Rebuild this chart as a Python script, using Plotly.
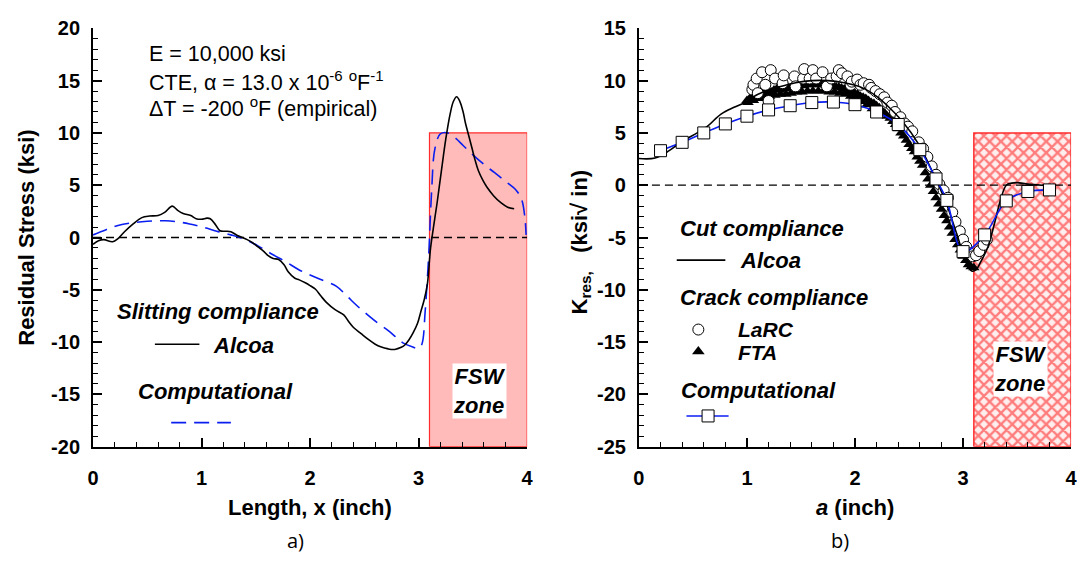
import plotly.graph_objects as go

# ---------------- Panel a) data ----------------
alcoa_a_x = [0.00, 0.05, 0.10, 0.18, 0.23, 0.29, 0.37, 0.45, 0.52, 0.60, 0.66, 0.73, 0.78, 0.83, 0.90,
             0.95, 1.00, 1.05, 1.08, 1.13, 1.17, 1.22, 1.27, 1.33, 1.42, 1.47, 1.52, 1.57, 1.61, 1.66,
             1.71, 1.76, 1.80, 1.86, 1.90, 1.96, 2.00, 2.05, 2.10, 2.15, 2.23, 2.31, 2.36, 2.40, 2.47,
             2.53, 2.60, 2.65, 2.72, 2.78, 2.84, 2.87, 2.91, 2.95, 2.99, 3.02, 3.05, 3.08, 3.11, 3.14,
             3.17, 3.21, 3.25, 3.29, 3.32, 3.35, 3.38, 3.41, 3.43, 3.46, 3.49, 3.52, 3.55, 3.59, 3.63,
             3.69, 3.76, 3.82, 3.88]
alcoa_a_y = [-0.65, -0.3, -0.2, -0.4, -0.1, 0.55, 1.3, 1.9, 2.05, 2.1, 2.4, 3.0, 2.6, 2.3, 2.1,
             1.8, 1.75, 1.85, 1.8, 1.2, 0.65, 0.6, 0.55, 0.2, -0.2, -0.5, -0.9, -1.3, -1.7, -2.0,
             -2.1, -2.6, -3.3, -3.9, -4.05, -4.35, -4.6, -4.95, -5.6, -6.2, -6.9, -7.4, -8.1, -8.6, -9.2,
             -9.7, -10.2, -10.45, -10.65, -10.7, -10.5, -10.3, -9.8, -9.1, -8.2, -7.1, -6.0, -4.5, -1.0, 1.2,
             3.3, 6.4, 9.4, 11.8, 13.0, 13.45, 13.0, 12.0, 11.0, 9.8, 8.6, 7.4, 6.4, 5.5, 4.8,
             4.0, 3.3, 2.9, 2.75]

comp_a_x = [0.00, 0.12, 0.23, 0.34, 0.45, 0.56, 0.67, 0.78, 0.89, 1.01, 1.14, 1.27, 1.39, 1.52, 1.65,
            1.78, 1.90, 2.07, 2.24, 2.34, 2.43, 2.53, 2.62, 2.72, 2.80, 2.86, 2.94, 3.00, 3.03, 3.06,
            3.08, 3.095, 3.12, 3.15, 3.20, 3.27, 3.34, 3.41, 3.50, 3.60, 3.70, 3.79, 3.90, 3.95, 3.98, 3.99]
comp_a_y = [0.25, 0.75, 1.15, 1.38, 1.5, 1.58, 1.6, 1.5, 1.3, 1.0, 0.6, 0.25, -0.15, -0.8, -1.6,
            -2.35, -3.1, -3.9, -4.65, -5.6, -6.5, -7.4, -8.15, -8.9, -9.6, -10.1, -10.45, -10.6, -10.2, -7.1,
            -4.0, -1.3, 4.5, 8.5, 9.9, 10.0, 9.5, 8.8, 7.9, 7.0, 6.2, 5.45, 4.5, 3.6, 1.8, 0.25]

fsw_a = [3.1, 4.0, -20, 10]   # x0, x1, y0, y1

# ---------------- Panel b) data ----------------
comp_b_x = [0.2, 0.4, 0.6, 0.8, 1.0, 1.2, 1.4, 1.6, 1.8, 2.0, 2.2, 2.4, 2.6, 2.75, 2.85, 3.0, 3.2, 3.4, 3.6, 3.8]
comp_b_y = [3.3, 4.1, 5.0, 5.86, 6.6, 7.2, 7.6, 7.9, 7.95, 7.7, 7.0, 5.8, 3.4, 0.6, -1.45, -6.35, -4.75, -1.5, -0.6, -0.45]

alcoa_b_x = [0.00, 0.15, 0.28, 0.40, 0.54, 0.63, 0.76, 0.88, 0.98, 1.05, 1.15, 1.30, 1.45, 1.60, 1.75,
             1.90, 2.05, 2.20, 2.30, 2.43, 2.59, 2.72, 2.84, 2.94, 3.03, 3.08, 3.12, 3.16, 3.23, 3.29,
             3.35, 3.40, 3.45, 3.50, 3.60, 3.73, 3.85]
alcoa_b_y = [2.55, 2.6, 3.3, 4.2, 5.0, 5.6, 6.8, 7.45, 7.9, 8.4, 8.9, 9.4, 9.8, 10.0, 10.0,
             9.8, 9.4, 8.5, 7.6, 6.2, 3.9, 1.2, -1.6, -4.6, -7.4, -8.2, -8.1, -7.4, -5.9, -3.7,
             -1.3, 0.0, 0.2, 0.25, 0.1, 0.0, -0.05]

larc_x = [1.05, 1.06, 1.09, 1.10, 1.14, 1.17, 1.20, 1.22, 1.26, 1.33, 1.34, 1.44, 1.45, 1.52, 1.53,
          1.58, 1.61, 1.64, 1.70, 1.74, 1.78, 1.83, 1.85, 1.88, 1.93, 1.96, 1.97, 2.02, 2.05, 2.08,
          2.13, 2.15, 2.19, 2.23, 2.27, 2.30, 2.34, 2.37, 2.42, 2.46, 2.49, 2.53, 2.59, 2.63, 2.67,
          2.71, 2.75, 2.78, 2.82, 2.86, 2.90, 2.93, 2.97, 3.00, 3.03, 3.06, 3.09, 3.12, 3.15, 3.19, 3.22]
larc_y = [9.15, 9.6, 10.2, 8.8, 10.8, 9.6, 8.05, 11.0, 10.2, 9.75, 10.5, 10.4, 9.45, 10.2, 11.1,
          10.2, 11.0, 10.2, 10.8, 9.45, 10.2, 10.4, 11.0, 10.7, 10.4, 9.6, 9.9, 10.1, 9.6, 9.75,
          9.6, 9.3, 9.0, 8.7, 8.4, 7.9, 7.6, 7.0, 6.5, 5.9, 5.6, 5.15, 4.1, 3.5, 2.7,
          1.8, 1.0, 0.1, -0.5, -1.2, -2.6, -3.5, -4.4, -5.2, -5.9, -6.5, -6.8, -6.7, -6.3, -5.7, -5.2]

fta_x = [1.000, 1.025, 1.050, 1.075, 1.100, 1.125, 1.150, 1.175, 1.200, 1.225, 1.250, 1.275, 1.300,
         1.325, 1.350, 1.375, 1.400, 1.425, 1.450, 1.475, 1.500, 1.525, 1.550, 1.575, 1.600, 1.625,
         1.650, 1.675, 1.700, 1.725, 1.750, 1.775, 1.800, 1.825, 1.850, 1.875, 1.900, 1.925, 1.950,
         1.975, 2.000, 2.025, 2.050, 2.075, 2.100, 2.125, 2.150, 2.175, 2.200, 2.225, 2.250, 2.275,
         2.300, 2.325, 2.350, 2.375, 2.400, 2.425, 2.450, 2.475, 2.500, 2.525, 2.550, 2.575, 2.600,
         2.625, 2.650, 2.675, 2.700, 2.725, 2.750, 2.775, 2.800, 2.825, 2.850, 2.875, 2.900, 2.925,
         2.950, 2.975, 3.000, 3.025, 3.050, 3.075, 3.100,
         # lower edge of the dense band
         1.010, 1.060, 1.110, 1.160, 1.210, 1.260, 1.310, 1.360, 1.410, 1.460, 1.510, 1.560, 1.610,
         1.660, 1.710, 1.760, 1.810, 1.860, 1.910, 1.960, 2.010, 2.060, 2.110, 2.160]
fta_y = [8.1, 8.3, 8.5, 8.4, 8.6, 8.8, 8.7, 8.9, 9.0, 8.9, 9.1, 9.2, 9.1,
         9.3, 9.2, 9.4, 9.3, 9.5, 9.4, 9.5, 9.6, 9.5, 9.6, 9.7, 9.6, 9.7,
         9.6, 9.7, 9.6, 9.6, 9.5, 9.6, 9.5, 9.4, 9.4, 9.3, 9.2, 9.1, 9.0,
         8.9, 8.8, 8.7, 8.5, 8.4, 8.3, 8.1, 7.9, 7.8, 7.6, 7.4, 7.1, 6.9,
         6.6, 6.4, 6.1, 5.8, 5.4, 5.0, 4.7, 4.3, 3.9, 3.5, 3.2, 2.7, 2.3,
         1.9, 1.2, 0.6, 0.0, -0.6, -1.2, -1.8, -2.3, -2.9, -3.4, -4.0, -4.6, -5.2,
         -5.7, -6.2, -6.8, -7.2, -7.6, -7.8, -7.9,
         7.9, 8.1, 8.3, 8.4, 8.5, 8.6, 8.7, 8.7, 8.8, 8.9, 8.9, 9.0, 9.0,
         9.0, 9.0, 8.9, 8.9, 8.8, 8.7, 8.5, 8.3, 8.0, 7.7, 7.3]

fsw_b = [3.1, 4.0, -25, 5]

xtick_vals = [0, 1, 2, 3, 4]
xtick_text = ["0", "1", "2", "3", "4"]
ya_tick_vals = [-20, -15, -10, -5, 0, 5, 10, 15, 20]
ya_tick_text = ["-20", "-15", "-10", "-5", "0", "5", "10", "15", "20"]
yb_tick_vals = [-25, -20, -15, -10, -5, 0, 5, 10, 15]
yb_tick_text = ["-25", "-20", "-15", "-10", "-5", "0", "5", "10", "15"]

W, H = 1085, 576
FONT = "Liberation Sans, Arial, sans-serif"
BLUE = "#0a1ef0"

fig = go.Figure()

# --- panel a ---
fig.add_trace(go.Scatter(x=[fsw_a[0], fsw_a[1], fsw_a[1], fsw_a[0], fsw_a[0]],
                         y=[fsw_a[2], fsw_a[2], fsw_a[3], fsw_a[3], fsw_a[2]],
                         fill="toself", fillcolor="#ffbaba", mode="lines",
                         line=dict(color="#ff2a2a", width=1.2), xaxis="x", yaxis="y", hoverinfo="skip"))
fig.add_trace(go.Scatter(x=[0, 4], y=[0, 0], mode="lines",
                         line=dict(color="black", width=1.3, dash="8px,5px"), xaxis="x", yaxis="y"))
fig.add_trace(go.Scatter(x=comp_a_x, y=comp_a_y, mode="lines", line_shape="spline",
                         line=dict(color=BLUE, width=1.6, dash="15px,8px"), xaxis="x", yaxis="y"))
fig.add_trace(go.Scatter(x=alcoa_a_x, y=alcoa_a_y, mode="lines", line_shape="spline",
                         line=dict(color="black", width=1.6), xaxis="x", yaxis="y"))
# legend samples panel a
fig.add_trace(go.Scatter(x=[0.57, 0.98], y=[-10.2, -10.2], mode="lines",
                         line=dict(color="black", width=1.6), xaxis="x", yaxis="y"))
fig.add_trace(go.Scatter(x=[0.72, 1.27], y=[-17.7, -17.7], mode="lines",
                         line=dict(color=BLUE, width=1.6, dash="15px,8px"), xaxis="x", yaxis="y"))

# --- panel b ---
fig.add_trace(go.Scatter(x=[fsw_b[0], fsw_b[1], fsw_b[1], fsw_b[0], fsw_b[0]],
                         y=[fsw_b[2], fsw_b[2], fsw_b[3], fsw_b[3], fsw_b[2]],
                         fill="toself", fillcolor="white", mode="lines",
                         fillpattern=dict(shape="x", fgcolor="#ff0a0a", bgcolor="#ffeeee", size=8, solidity=0.5),
                         line=dict(color="#ff2a2a", width=1.5), xaxis="x2", yaxis="y2", hoverinfo="skip"))
fig.add_trace(go.Scatter(x=[0, 4], y=[0, 0], mode="lines",
                         line=dict(color="black", width=1.3, dash="8px,5px"), xaxis="x2", yaxis="y2"))
fig.add_trace(go.Scatter(x=fta_x, y=fta_y, mode="markers",
                         marker=dict(symbol="triangle-up", size=10, color="black"), xaxis="x2", yaxis="y2"))
fig.add_trace(go.Scatter(x=larc_x, y=larc_y, mode="markers",
                         marker=dict(symbol="circle", size=11, color="white", line=dict(color="black", width=1)),
                         xaxis="x2", yaxis="y2"))
fig.add_trace(go.Scatter(x=alcoa_b_x, y=alcoa_b_y, mode="lines", line_shape="spline",
                         line=dict(color="black", width=1.6), xaxis="x2", yaxis="y2"))
fig.add_trace(go.Scatter(x=comp_b_x, y=comp_b_y, mode="lines+markers", line_shape="spline",
                         line=dict(color=BLUE, width=1.6),
                         marker=dict(symbol="square", size=12, color="white", line=dict(color="black", width=1)),
                         xaxis="x2", yaxis="y2"))
# legend samples panel b
fig.add_trace(go.Scatter(x=[0.35, 0.80], y=[-7.16, -7.16], mode="lines",
                         line=dict(color="black", width=1.6), xaxis="x2", yaxis="y2"))
fig.add_trace(go.Scatter(x=[0.55], y=[-13.8], mode="markers",
                         marker=dict(symbol="circle", size=11, color="white", line=dict(color="black", width=1)),
                         xaxis="x2", yaxis="y2"))
fig.add_trace(go.Scatter(x=[0.55], y=[-15.9], mode="markers",
                         marker=dict(symbol="triangle-up", size=11, color="black"), xaxis="x2", yaxis="y2"))
fig.add_trace(go.Scatter(x=[0.44, 0.83], y=[-22.06, -22.06], mode="lines",
                         line=dict(color=BLUE, width=1.6), xaxis="x2", yaxis="y2"))
fig.add_trace(go.Scatter(x=[0.64], y=[-22.06], mode="markers",
                         marker=dict(symbol="square", size=12, color="white", line=dict(color="black", width=1)),
                         xaxis="x2", yaxis="y2"))

def px_x(p):
    return p / W

def px_y(p):
    return 1 - p / H

axis_common = dict(showline=True, linecolor="black", linewidth=2, ticks="inside", ticklen=9, tickwidth=2,
                   tickcolor="black", showgrid=False, zeroline=False, mirror=False,
                   tickfont=dict(family=FONT, size=20, color="black", weight="bold"))
minor_x = dict(tickmode="linear", tick0=0, dtick=0.2, ticks="inside", ticklen=5, tickwidth=1.2, tickcolor="black")
minor_y = dict(tickmode="linear", tick0=0, dtick=1, ticks="inside", ticklen=5, tickwidth=1.2, tickcolor="black")

fig.update_layout(
    width=W, height=H, margin=dict(l=0, r=0, t=0, b=0),
    paper_bgcolor="white", plot_bgcolor="rgba(0,0,0,0)", showlegend=False,
    xaxis=dict(domain=[px_x(88), px_x(527)], range=[0, 4], anchor="y", tickmode="array",
               tickvals=xtick_vals, ticktext=xtick_text, minor=minor_x, ticklabelstandoff=12, **axis_common),
    yaxis=dict(domain=[px_y(453), px_y(18)], range=[-20, 20], anchor="x", tickmode="array",
               tickvals=ya_tick_vals, ticktext=ya_tick_text, minor=minor_y, ticklabelstandoff=7, **axis_common),
    xaxis2=dict(domain=[px_x(640), px_x(1077)], range=[0, 4], anchor="y2", tickmode="array",
                tickvals=xtick_vals, ticktext=xtick_text, minor=minor_x, ticklabelstandoff=12, **axis_common),
    yaxis2=dict(domain=[px_y(453), px_y(18)], range=[-25, 15], anchor="x2", tickmode="array",
                tickvals=yb_tick_vals, ticktext=yb_tick_text, minor=minor_y, ticklabelstandoff=7, **axis_common),
)

bi = dict(family=FONT, size=22, color="black", weight="bold", style="italic")
bi_s = dict(family=FONT, size=21, color="black", weight="bold", style="italic")
reg = dict(family=FONT, size=21.5, color="black")
fswf = dict(family=FONT, size=22, color="black", weight="bold", style="italic")
ann = []

def add(x, y, text, font, xref, yref, xanchor="left", **kw):
    ann.append(dict(x=x, y=y, xref=xref, yref=yref, text=text, showarrow=False,
                    xanchor=xanchor, yanchor="middle", font=font, **kw))

# panel a texts
add(0.5, 17.55, "E = 10,000 ksi", reg, "x", "y")
add(0.5, 15.0, "CTE, α = 13.0 x 10<sup>-6</sup> <sup>o</sup>F<sup>-1</sup>", reg, "x", "y")
add(0.5, 12.45, "ΔT = -200 <sup>o</sup>F (empirical)", reg, "x", "y")
add(0.2, -7.03, "Slitting compliance", bi, "x", "y")
add(1.09, -10.3, "Alcoa", bi, "x", "y")
add(1.13, -14.75, "Computational", bi, "x", "y", xanchor="center")
add(3.56, -14.7, "FSW<br>zone", fswf, "x", "y", xanchor="center", bgcolor="white", borderpad=0)
# panel b texts
add(0.36, -4.1, "Cut compliance", bi, "x2", "y2")
add(0.915, -7.16, "Alcoa", bi, "x2", "y2")
add(0.36, -10.75, "Crack compliance", bi, "x2", "y2")
add(0.9, -13.75, "LaRC", bi_s, "x2", "y2")
add(0.9, -15.95, "FTA", bi_s, "x2", "y2")
add(0.37, -19.67, "Computational", bi, "x2", "y2")
add(3.53, -17.6, "FSW<br>zone", fswf, "x2", "y2", xanchor="center", bgcolor="white", borderpad=0)
# axis titles
tfont = dict(family=FONT, size=22, color="black", weight="bold")
add(px_x(307), px_y(516), "Length, x (inch)", tfont, "paper", "paper", xanchor="center")
add(px_x(858), px_y(516), "<i>a</i> (inch)", tfont, "paper", "paper", xanchor="center")
add(px_x(21), px_y(236), "Residual Stress (ksi)", tfont, "paper", "paper", xanchor="center", textangle=-90)
add(px_x(581), px_y(240), "K<sub>res,</sub>   (ksi√ in)", tfont, "paper", "paper", xanchor="center", textangle=-90)
cfont = dict(family="Open Sans, Liberation Sans, sans-serif", size=20, color="black")
add(px_x(293), px_y(551), "a)", cfont, "paper", "paper", xanchor="center")
add(px_x(843), px_y(551), "b)", cfont, "paper", "paper", xanchor="center")
fig.update_layout(annotations=ann)

fig.write_html("out.html")
